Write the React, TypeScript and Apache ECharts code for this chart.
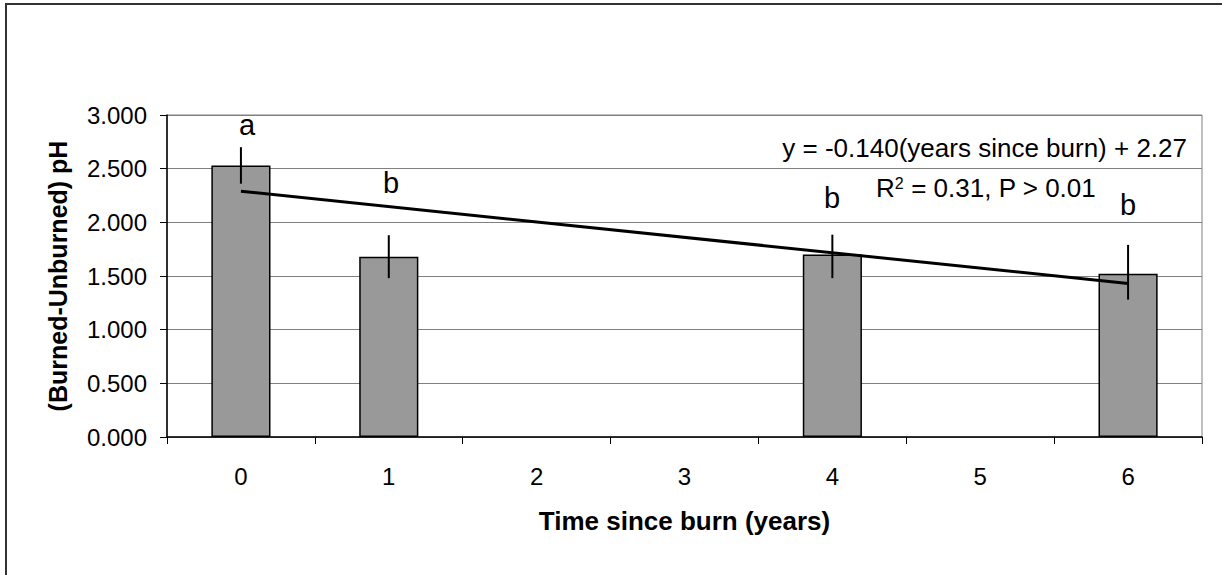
import React, { useEffect, useRef } from "react";
import * as echarts from "echarts";

const categories = ["0", "1", "2", "3", "4", "5", "6"];
const barValues: (number | null)[] = [2.53, 1.68, null, null, 1.7, null, 1.52];
const errIndex = [0, 1, 4, 6];
const errLow = [2.36, 1.48, 1.48, 1.28];
const errHigh = [2.7, 1.88, 1.885, 1.79];
const trendValues: (number | null)[] = [2.29, null, null, null, null, null, 1.43];
const yTicks = { min: 0, max: 3, interval: 0.5 };
const groupLetters = ["a", "b", "b", "b"];
const equationText = "y = -0.140(years since burn) + 2.27";

const FONT = "'Liberation Sans', Arial, sans-serif";

export default function App() {
  const ref = useRef<HTMLDivElement>(null);
  useEffect(() => {
    if (!ref.current) return;
    const chart = echarts.init(ref.current, null, { renderer: "svg" });
    const errData = errIndex.map((x, i) => [x, errLow[i], errHigh[i]]);
    const letterStyle = (t: string) => ({ text: t, font: `29px ${FONT}`, fill: "#000", textAlign: "center", textVerticalAlign: "middle" });
    chart.setOption({
      animation: false,
      backgroundColor: "#ffffff",
      textStyle: { fontFamily: FONT },
      grid: { left: 167, top: 115, right: 20, bottom: 138, show: true, borderColor: "#808080", borderWidth: 1 },
      xAxis: {
        type: "category",
        data: categories,
        boundaryGap: true,
        axisLine: { lineStyle: { color: "#000", width: 1.5 } },
        axisTick: { show: true, interval: 0, length: 7, lineStyle: { color: "#000", width: 1 } },
        axisLabel: { color: "#000", fontSize: 24, margin: 27, fontFamily: FONT },
        name: "Time since burn (years)",
        nameLocation: "middle",
        nameGap: 71,
        nameTextStyle: { color: "#000", fontSize: 26, fontWeight: "bold", fontFamily: FONT },
        splitLine: { show: false },
      },
      yAxis: {
        type: "value",
        min: yTicks.min,
        max: yTicks.max,
        interval: yTicks.interval,
        axisLine: { show: true, lineStyle: { color: "#000", width: 1.5 } },
        axisTick: { show: true, length: 7, lineStyle: { color: "#000", width: 1 } },
        axisLabel: { color: "#000", fontSize: 24, margin: 20, fontFamily: FONT, formatter: (v: number) => v.toFixed(3) },
        splitLine: { show: true, lineStyle: { color: "#808080", width: 1.2 } },
        name: "(Burned-Unburned) pH",
        nameLocation: "middle",
        nameGap: 97,
        nameTextStyle: { color: "#000", fontSize: 25, fontWeight: "bold", fontFamily: FONT },
      },
      series: [
        {
          type: "bar",
          data: barValues,
          barWidth: "40%",
          itemStyle: { color: "#999999", borderColor: "#000", borderWidth: 1.5 },
          z: 2,
        },
        {
          type: "custom",
          data: errData,
          z: 4,
          renderItem: (params: any, api: any) => {
            const p1 = api.coord([api.value(0), api.value(1)]);
            const p2 = api.coord([api.value(0), api.value(2)]);
            return {
              type: "line",
              shape: { x1: p1[0], y1: p1[1], x2: p2[0], y2: p2[1] },
              style: { stroke: "#000", lineWidth: 2 },
            };
          },
        },
        {
          type: "line",
          data: trendValues,
          connectNulls: true,
          symbol: "none",
          lineStyle: { color: "#000", width: 3 },
          z: 5,
        },
      ],
      graphic: [
        {
          type: "rect",
          shape: { x: 6, y: 4, width: 1400, height: 800 },
          style: { fill: "none", stroke: "#333", lineWidth: 2 },
          silent: true,
        },
        { type: "text", x: 247, y: 125, style: letterStyle(groupLetters[0]) },
        { type: "text", x: 391, y: 183, style: letterStyle(groupLetters[1]) },
        { type: "text", x: 832, y: 198, style: letterStyle(groupLetters[2]) },
        { type: "text", x: 1128, y: 205, style: letterStyle(groupLetters[3]) },
        { type: "text", x: 1187, y: 148, style: { text: equationText, font: `26px ${FONT}`, fill: "#000", textAlign: "right", textVerticalAlign: "middle" } },
        {
          type: "text",
          x: 986,
          y: 186,
          style: {
            text: "{n|R}{s|2}{n| = 0.31, P > 0.01}",
            textAlign: "center",
            textVerticalAlign: "middle",
            fill: "#000",
            rich: {
              n: { fontSize: 26, fontFamily: FONT, color: "#000", lineHeight: 30, verticalAlign: "bottom" },
              s: { fontSize: 16, fontFamily: FONT, color: "#000", lineHeight: 30, verticalAlign: "bottom", padding: [0, 0, 10, 0] },
            },
          },
        },
      ],
    });
    return () => chart.dispose();
  }, []);
  return <div ref={ref} style={{ position: "absolute", left: 0, top: 0, width: 1222, height: 575, background: "#fff" }} />;
}
